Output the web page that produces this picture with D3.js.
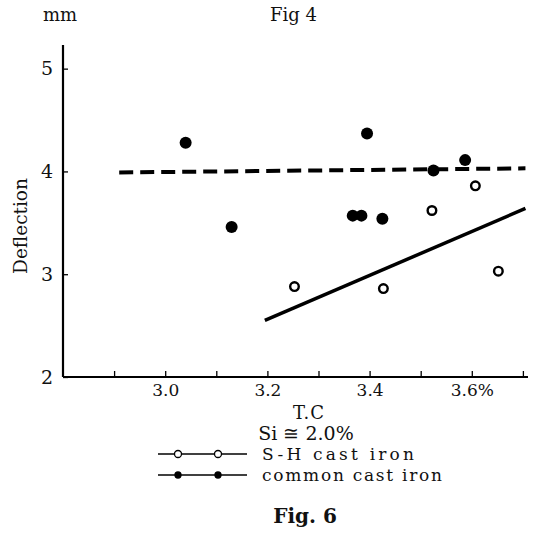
<!DOCTYPE html>
<html>
<head>
  <meta charset="UTF-8" />
  <title>Fig. 6</title>
  <script src="https://cdn.jsdelivr.net/npm/d3@7"></script>
  <style>
    body { margin: 0; background: #fff; }
    svg text { font-family: 'DejaVu Serif', 'Liberation Serif', serif; fill: #111; }
  </style>
</head>
<body>
  <svg width="533" height="546"></svg>
  <script>
    // values
    const commonTC = [3.04, 3.13, 3.395, 3.367, 3.384, 3.425, 3.525, 3.587];
    const commonDefl = [4.28, 3.46, 4.37, 3.57, 3.57, 3.54, 4.01, 4.11];
    const shTC = [3.253, 3.427, 3.522, 3.607, 3.652];
    const shDefl = [2.88, 2.86, 3.62, 3.86, 3.03];
    // fitted lines (end points)
    const commonFitTC = [2.91, 3.705];
    const commonFitDefl = [3.99, 4.03];
    const shFitTC = [3.195, 3.705];
    const shFitDefl = [2.55, 3.64];

    const xTicks = [2.9, 3.0, 3.1, 3.2, 3.3, 3.4, 3.5, 3.6, 3.7];
    const xLabels = { '3.0': '3.0', '3.2': '3.2', '3.4': '3.4', '3.6': '3.6%' };
    const yTicks = [2, 3, 4, 5];

    const svg = d3.select('svg');
    const x = d3.scaleLinear().domain([2.8, 3.71]).range([63, 528]);
    const y = d3.scaleLinear().domain([2, 5.23]).range([377, 45]);

    // axes
    const xAxis = d3.axisBottom(x).tickValues(xTicks).tickSize(-6)
      .tickFormat(d => xLabels[d.toFixed(1)] || '');
    const gx = svg.append('g').attr('transform', 'translate(0,' + y(2) + ')').call(xAxis);
    gx.select('.domain').attr('stroke-width', 2.2).attr('d', 'M' + x(2.8) + ',0H' + x(3.71));
    gx.selectAll('.tick line').attr('stroke-width', 1.3);
    gx.selectAll('.tick text').attr('font-size', 17).attr('y', 19).attr('dy', 0)
      .attr('fill', '#111').attr('font-family', 'DejaVu Serif');

    const yAxis = d3.axisLeft(y).tickValues(yTicks).tickSize(-5).tickPadding(10)
      .tickFormat(d3.format('d'));
    const gy = svg.append('g').attr('transform', 'translate(' + x(2.8) + ',0)').call(yAxis);
    gy.select('.domain').attr('stroke-width', 2.2).attr('d', 'M0,' + y(5.23) + 'V' + y(2));
    gy.selectAll('.tick line').attr('stroke-width', 1.3);
    gy.selectAll('.tick text').attr('font-size', 19).attr('fill', '#111')
      .attr('font-family', 'DejaVu Serif');

    // fit lines
    const line = d3.line().x(d => x(d[0])).y(d => y(d[1]));
    svg.append('path')
      .attr('d', line(d3.zip(commonFitTC, commonFitDefl)))
      .attr('fill', 'none').attr('stroke', '#000').attr('stroke-width', 4)
      .attr('stroke-dasharray', '14,7');
    svg.append('path')
      .attr('d', line(d3.zip(shFitTC, shFitDefl)))
      .attr('fill', 'none').attr('stroke', '#000').attr('stroke-width', 3.5);

    // points
    svg.append('g').selectAll('circle')
      .data(d3.zip(commonTC, commonDefl))
      .enter().append('circle')
      .attr('cx', d => x(d[0])).attr('cy', d => y(d[1])).attr('r', 6)
      .attr('fill', '#000');
    svg.append('g').selectAll('circle')
      .data(d3.zip(shTC, shDefl))
      .enter().append('circle')
      .attr('cx', d => x(d[0])).attr('cy', d => y(d[1])).attr('r', 4.3)
      .attr('fill', '#fff').attr('stroke', '#000').attr('stroke-width', 2.4);

    // labels
    svg.append('text').attr('x', 43).attr('y', 21).attr('font-size', 18).text('mm');
    svg.append('text').attr('x', 270).attr('y', 21).attr('font-size', 18).text('Fig 4');
    svg.append('text')
      .attr('transform', 'translate(27,226) rotate(-90)')
      .attr('text-anchor', 'middle').attr('font-size', 18.5).text('Deflection');
    svg.append('text').attr('x', 309).attr('y', 419).attr('text-anchor', 'middle')
      .attr('font-size', 18).attr('letter-spacing', 1).text('T.C');
    svg.append('text').attr('x', 306).attr('y', 440).attr('text-anchor', 'middle')
      .attr('font-size', 19).text('Si ≅ 2.0%');

    // legend
    const legend = [
      { label: 'S-H cast iron', filled: false, y: 454 },
      { label: 'common cast iron', filled: true, y: 475 }
    ];
    const legendWidth = { 'S-H cast iron': 152, 'common cast iron': 180 };
    const lg = svg.append('g').selectAll('g').data(legend).enter().append('g');
    lg.append('line').attr('x1', 158).attr('x2', 247)
      .attr('y1', d => d.y).attr('y2', d => d.y)
      .attr('stroke', '#000').attr('stroke-width', 1.5);
    lg.selectAll('circle').data(d => [178, 218].map(cx => ({ cx, d })))
      .enter().append('circle')
      .attr('cx', c => c.cx).attr('cy', c => c.d.y)
      .attr('r', c => c.d.filled ? 3 : 3.5)
      .attr('fill', c => c.d.filled ? '#000' : '#fff')
      .attr('stroke', '#000').attr('stroke-width', 1.3);
    lg.append('text').attr('x', 262).attr('y', d => d.y + 6)
      .attr('font-size', 17)
      .attr('textLength', d => legendWidth[d.label]).attr('lengthAdjust', 'spacing')
      .text(d => d.label);

    svg.append('text').attr('x', 305).attr('y', 523).attr('text-anchor', 'middle')
      .attr('font-size', 20).attr('font-weight', 'bold').text('Fig. 6');
  </script>
</body>
</html>
